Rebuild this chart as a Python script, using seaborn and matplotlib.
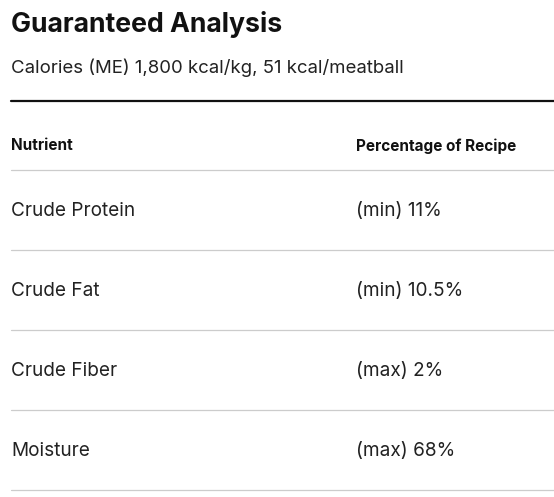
import matplotlib
matplotlib.use("Agg")
import matplotlib.pyplot as plt
import seaborn as sns

sns.set_theme(style="white")
plt.rcParams['font.family'] = ['Inter', 'DejaVu Sans']

title = "Guaranteed Analysis"
subtitle = "Calories (ME) 1,800 kcal/kg, 51 kcal/meatball"
headers = ["Nutrient", "Percentage of Recipe"]
nutrients = ["Crude Protein", "Crude Fat", "Crude Fiber", "Moisture"]
values = ["(min) 11%", "(min) 10.5%", "(max) 2%", "(max) 68%"]

W, H = 554, 497
fig = plt.figure(figsize=(W/100, H/100), dpi=100)
ax = fig.add_axes([0, 0, 1, 1])
ax.set_xlim(0, W); ax.set_ylim(H, 0); ax.axis('off')

ax.text(11, 25, title, fontsize=19.2, fontweight='bold', va='center', color='#111')
ax.text(11, 68, subtitle, fontsize=13.4, va='center', color='#222')
ax.plot([11, 554], [101, 101], color='#111', lw=1.6)
ax.text(11, 146, headers[0], fontsize=11, fontweight='bold', va='center', color='#111')
ax.text(356, 146, headers[1], fontsize=11, fontweight='bold', va='center', color='#111')
ax.plot([11, 554], [170, 170], color='#cccccc', lw=0.9)
for i, (n, v) in enumerate(zip(nutrients, values)):
    y = 211 + 80 * i
    ax.text(11, y, n, fontsize=13.7, va='center', color='#222')
    ax.text(356, y, v, fontsize=13.7, va='center', color='#222')
    ax.plot([11, 554], [y + 39, y + 39], color='#cccccc', lw=0.9)

fig.savefig("out.png", dpi=100)
